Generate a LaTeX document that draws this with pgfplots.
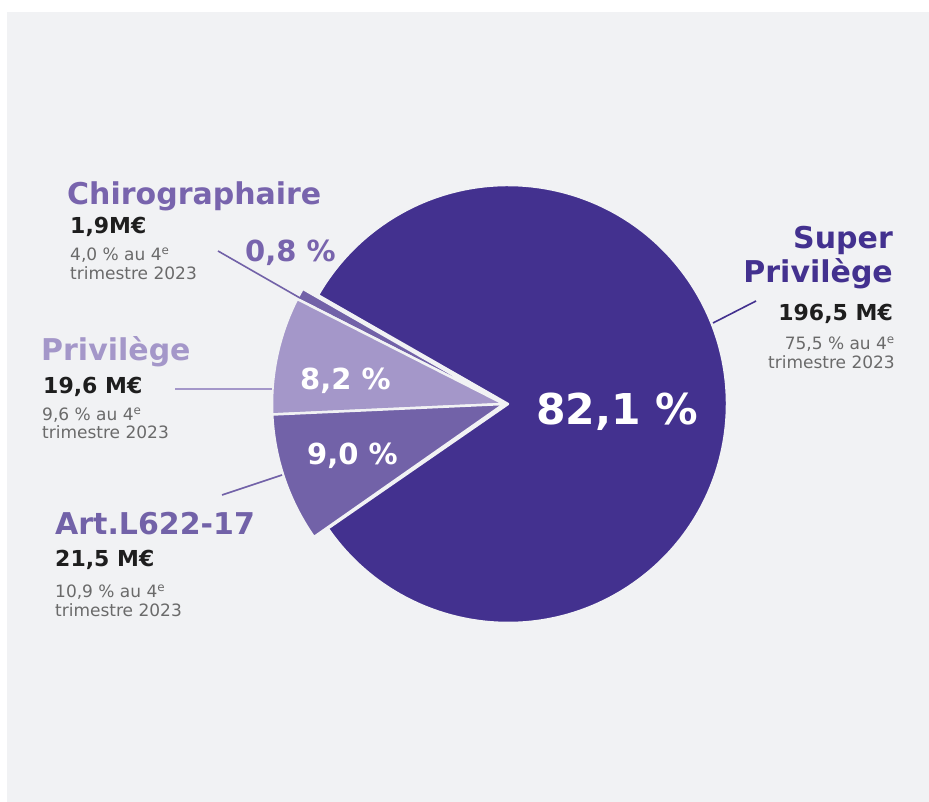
\documentclass[border=0pt]{standalone}
\usepackage{pgfplots}
\pgfplotsset{compat=1.18}
\usepackage{fontspec}
\setmainfont{DejaVu Sans}
\definecolor{bg}{HTML}{F1F2F4}
\definecolor{cDark}{HTML}{43318F}
\definecolor{cMid}{HTML}{7262A8}
\definecolor{cLight}{HTML}{A497C9}
\definecolor{cHead}{HTML}{7864AD}
\definecolor{cBlack}{HTML}{1E1E1E}
\definecolor{cGrey}{HTML}{6A6A6A}
% shares in percent
\def\vSuper{82.1}
\def\vChiro{0.8}
\def\vPriv{8.2}
\def\vArt{9.0}
\def\artEnd{215.0}
\newcommand{\fs}[2]{\fontsize{#1bp}{#2bp}\selectfont}
\begin{document}
\begin{tikzpicture}
\begin{axis}[width=929bp, height=802bp, scale only axis,
  xmin=0, xmax=929, ymin=0, ymax=802, hide axis, clip=false]
\fill[white] (axis cs:0,0) rectangle (axis cs:929,802);
\fill[bg] (axis cs:7,0) rectangle (axis cs:929,790);
% angles from the shares
\pgfmathsetmacro{\aArtS}{\artEnd-3.6*\vArt}
\pgfmathsetmacro{\aPrivS}{\aArtS-3.6*\vPriv}
\pgfmathsetmacro{\aChiroS}{\aPrivS-3.6*\vChiro}
\pgfmathsetmacro{\aSupS}{\aChiroS-3.6*\vSuper}
% big slice
\filldraw[fill=cDark, draw=bg, line width=2.5bp, line join=round]
  (axis cs:508,398) -- ++(\aSupS:219bp) arc[start angle=\aSupS, end angle=\aChiroS, radius=219bp] -- cycle;
% small slices
\filldraw[fill=cMid, draw=bg, line width=2.5bp, line join=round]
  (axis cs:504,398) -- ++(\aChiroS:232bp) arc[start angle=\aChiroS, end angle=\aPrivS, radius=232bp] -- cycle;
\filldraw[fill=cLight, draw=bg, line width=2.5bp, line join=round]
  (axis cs:504,398) -- ++(\aPrivS:232bp) arc[start angle=\aPrivS, end angle=\aArtS, radius=232bp] -- cycle;
\filldraw[fill=cMid, draw=bg, line width=2.5bp, line join=round]
  (axis cs:504,398) -- ++(\aArtS:232bp) arc[start angle=\aArtS, end angle=\artEnd, radius=232bp] -- cycle;
% leader lines
\draw[cMid, line width=1.6bp] (axis cs:218,551) -- (axis cs:300,504);
\draw[cLight, line width=1.6bp] (axis cs:175,413) -- (axis cs:272,413);
\draw[cMid, line width=1.6bp] (axis cs:222,307) -- (axis cs:282,327);
\draw[cDark, line width=1.6bp] (axis cs:713,479) -- (axis cs:756,501);
% slice labels
\node[anchor=base west, inner sep=0, text=white] at (axis cs:536,377) {\fs{42.5}{48}\bfseries 82,1 \%};
\node[anchor=base west, inner sep=0, text=white] at (axis cs:300,412) {\fs{29}{34}\bfseries 8,2 \%};
\node[anchor=base west, inner sep=0, text=white] at (axis cs:307,337) {\fs{29}{34}\bfseries 9,0 \%};
\node[anchor=base west, inner sep=0, text=cHead] at (axis cs:245,540) {\fs{29}{34}\bfseries 0,8 \%};
% Chirographaire
\node[anchor=base west, inner sep=0, text=cHead] at (axis cs:67,597) {\fs{30}{34}\bfseries Chirographaire};
\node[anchor=base west, inner sep=0, text=cBlack] at (axis cs:70,568) {\fs{22}{26}\bfseries 1,9M€};
\node[anchor=base west, inner sep=0, text=cGrey] at (axis cs:70,541) {\fs{17}{20}4,0 \% au 4\textsuperscript{e}};
\node[anchor=base west, inner sep=0, text=cGrey] at (axis cs:70,522) {\fs{17}{20}trimestre 2023};
% Privilege
\node[anchor=base west, inner sep=0, text=cLight] at (axis cs:41,441) {\fs{30}{34}\bfseries Privilège};
\node[anchor=base west, inner sep=0, text=cBlack] at (axis cs:43,408) {\fs{22}{26}\bfseries 19,6 M€};
\node[anchor=base west, inner sep=0, text=cGrey] at (axis cs:42,381) {\fs{17}{20}9,6 \% au 4\textsuperscript{e}};
\node[anchor=base west, inner sep=0, text=cGrey] at (axis cs:42,363) {\fs{17}{20}trimestre 2023};
% Art.L622-17
\node[anchor=base west, inner sep=0, text=cMid] at (axis cs:55,267) {\fs{30}{34}\bfseries Art.L622-17};
\node[anchor=base west, inner sep=0, text=cBlack] at (axis cs:55,235) {\fs{22}{26}\bfseries 21,5 M€};
\node[anchor=base west, inner sep=0, text=cGrey] at (axis cs:55,204) {\fs{17}{20}10,9 \% au 4\textsuperscript{e}};
\node[anchor=base west, inner sep=0, text=cGrey] at (axis cs:55,185) {\fs{17}{20}trimestre 2023};
% Super Privilege
\node[anchor=base east, inner sep=0, text=cDark] at (axis cs:893,553) {\fs{30}{34}\bfseries Super};
\node[anchor=base east, inner sep=0, text=cDark] at (axis cs:893,519) {\fs{30}{34}\bfseries Privilège};
\node[anchor=base east, inner sep=0, text=cBlack] at (axis cs:893,481) {\fs{22}{26}\bfseries 196,5 M€};
\node[anchor=base east, inner sep=0, text=cGrey] at (axis cs:895,452) {\fs{17}{20}75,5 \% au 4\textsuperscript{e}};
\node[anchor=base east, inner sep=0, text=cGrey] at (axis cs:895,433) {\fs{17}{20}trimestre 2023};
\end{axis}
\end{tikzpicture}
\end{document}
